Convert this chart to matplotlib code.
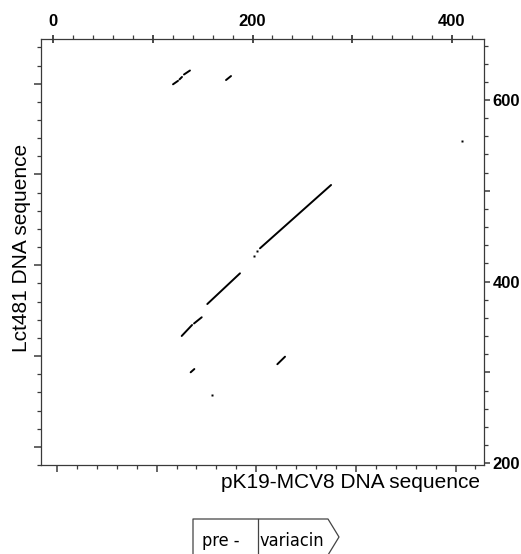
import matplotlib
matplotlib.use('Agg')
import matplotlib.pyplot as plt
from matplotlib.ticker import MultipleLocator, FuncFormatter, NullFormatter
from matplotlib import font_manager
from matplotlib.lines import Line2D

# ---------------- data ----------------
seg_x_start = [207.5, 154.6, 141.3, 128.9, 224.9, 137.9, 120.2, 126.7, 131.2, 173.4]
seg_y_start = [436.7, 375.3, 353.9, 340.1, 309.0, 300.1, 617.3, 622.7, 628.1, 622.0]
seg_x_end   = [278.8, 187.4, 149.0, 139.3, 232.6, 141.6, 125.2, 129.2, 137.2, 178.4]
seg_y_end   = [506.4, 409.1, 360.7, 352.2, 317.3, 303.7, 621.1, 625.4, 632.5, 626.4]
dot_x = [204.9, 201.5, 159.6, 410.6]
dot_y = [433.7, 428.5, 275.1, 554.8]

top_labelled = [0, 200, 400]
right_labelled = [200, 400, 600]
x_label = "pK19-MCV8 DNA sequence"
y_label = "Lct481 DNA sequence"
gene_labels = ["pre -", "variacin"]

# ---------------- fonts ----------------
fl = font_manager.fontManager.ttflist
names = {f.name for f in fl}
base_font = 'Liberation Sans' if 'Liberation Sans' in names else 'DejaVu Sans'
if 'Liberation Sans Narrow' in names:
    gene_kw = dict(family=['Liberation Sans Narrow', 'DejaVu Sans'], fontsize=14)
elif any(f.name == 'DejaVu Sans' and str(f.stretch) in ('condensed', 'semi-condensed') for f in fl):
    gene_kw = dict(family=['DejaVu Sans'], fontstretch='condensed', fontsize=13)
else:
    gene_kw = dict(family=[base_font, 'DejaVu Sans'], fontsize=11.5)
plt.rcParams['font.family'] = [base_font, 'DejaVu Sans']

W, H = 521, 554
fig = plt.figure(figsize=(W / 100, H / 100), dpi=100)

def fx(px):
    return px / W

def fy(py):
    return 1 - py / H

pos = [fx(41), fy(465), (484 - 41) / W, (465 - 39) / H]
ax = fig.add_axes(pos)
xlo, xhi = -12.3, 432.3
ylo, yhi = 198.0, 667.2
ax.set_xlim(xlo, xhi)
ax.set_ylim(ylo, yhi)

for x0, y0, x1, y1 in zip(seg_x_start, seg_y_start, seg_x_end, seg_y_end):
    ax.plot([x0, x1], [y0, y1], color='black', lw=1.4, solid_capstyle='round')
ax.plot(dot_x, dot_y, 's', ms=1.5, color='black', mec='none')

spine_col = '#3a3a3a'
for s in ax.spines.values():
    s.set_color(spine_col)
    s.set_linewidth(0.9)

ax.xaxis.tick_top()
ax.yaxis.tick_right()
ax.xaxis.set_major_locator(MultipleLocator(100))
ax.xaxis.set_minor_locator(MultipleLocator(20))
ax.yaxis.set_major_locator(MultipleLocator(100))
ax.yaxis.set_minor_locator(MultipleLocator(20))
ax.xaxis.set_major_formatter(FuncFormatter(lambda v, p: f"{int(round(v))}" if int(round(v)) in top_labelled else ""))
ax.yaxis.set_major_formatter(FuncFormatter(lambda v, p: f"{int(round(v))}" if int(round(v)) in right_labelled else ""))
ax.xaxis.set_minor_formatter(NullFormatter())
ax.yaxis.set_minor_formatter(NullFormatter())
ax.tick_params(axis='x', which='major', direction='inout', length=6, width=1.3, pad=4,
               labelsize=12, color=spine_col)
ax.tick_params(axis='x', which='minor', direction='out', length=3, width=0.9, color=spine_col)
ax.tick_params(axis='y', which='major', direction='out', length=4, width=1.1, pad=2,
               labelsize=12, color=spine_col)
ax.tick_params(axis='y', which='minor', direction='out', length=3, width=0.9, color=spine_col)
for lab in ax.get_xticklabels() + ax.get_yticklabels():
    lab.set_fontweight('bold')

# secondary (offset) ticks on the bottom and left edges
ax2 = fig.add_axes(pos, frameon=False)
ax2.set_xlim(xlo - 3.7, xhi - 3.7)
ax2.set_ylim(ylo - 18, yhi - 18)
ax2.xaxis.set_major_locator(MultipleLocator(100))
ax2.xaxis.set_minor_locator(MultipleLocator(20))
ax2.yaxis.set_major_locator(MultipleLocator(100))
ax2.yaxis.set_minor_locator(MultipleLocator(20))
ax2.xaxis.set_major_formatter(NullFormatter())
ax2.yaxis.set_major_formatter(NullFormatter())
ax2.tick_params(which='major', direction='out', length=5, width=1.1, color=spine_col)
ax2.tick_params(which='minor', direction='out', length=3, width=0.9, color=spine_col)
ax2.patch.set_visible(False)

# axis titles
fig.text(fx(480), fy(483), x_label, ha='right', va='center', fontsize=15)
fig.text(fx(22), fy(248), y_label, ha='center', va='center', rotation=90, fontsize=15)

# gene box
box_col = '#444444'
def fline(xs, ys):
    fig.add_artist(Line2D([fx(v) for v in xs], [fy(v) for v in ys],
                          transform=fig.transFigure, color=box_col, lw=0.9))

fline([193, 193, 328, 339, 328], [555, 519, 519, 537, 555])
fline([258, 258], [519, 555])
fig.text(fx(221), fy(541), gene_labels[0], ha='center', va='center', **gene_kw)
fig.text(fx(292), fy(541), gene_labels[1], ha='center', va='center', **gene_kw)

fig.savefig('out.png', dpi=100)
